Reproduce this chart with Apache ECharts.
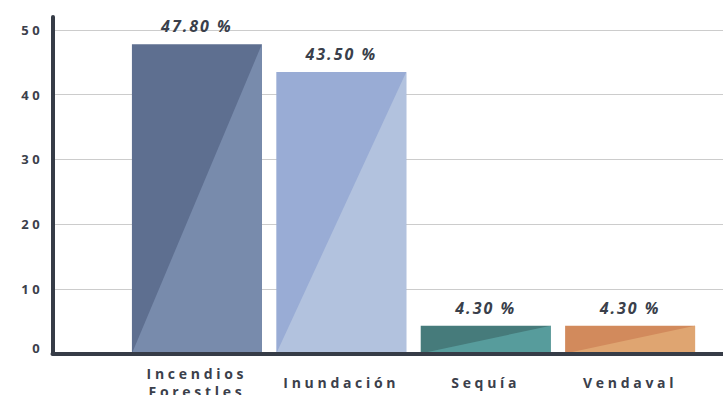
<!DOCTYPE html>
<html>
<head>
<meta charset="utf-8">
<script src="https://cdn.jsdelivr.net/npm/echarts@6/dist/echarts.min.js"></script>
<style>
  html, body { margin: 0; padding: 0; background: #ffffff; }
  #chart { width: 723px; height: 395px; }
  #chart text { letter-spacing: 3.7px; }
  #chart text[style*="italic"] { letter-spacing: 2px; }
</style>
</head>
<body>
<div id="chart"></div>
<script>
// Disaster types and their share (%)
const categories = ['Incendios Forestles', 'Inundación', 'Sequía', 'Vendaval'];
const values = [47.8, 43.5, 4.3, 4.3];
const yTicks = [0, 10, 20, 30, 40, 50];

// Two-tone fill for each bar: upper-left triangle and lower-right triangle
const darkColors = ['#5e6f90', '#99acd5', '#467b7b', '#d28a5c'];
const lightColors = ['#788bac', '#b2c2de', '#579c9c', '#dfa571'];

// Pad the category axis so bars sit between the y axis and the right edge
const axisCategories = [''].concat(categories, ['']);
const seriesData = values.map((v, i) => [i + 1, v]);

const chart = echarts.init(document.getElementById('chart'), null, { renderer: 'svg' });

chart.setOption({
  animation: false,
  backgroundColor: '#ffffff',
  grid: { left: 52.5, top: 17, width: 722, bottom: 41.5, containLabel: false, outerBoundsMode: 'none' },
  xAxis: {
    type: 'category',
    data: axisCategories,
    boundaryGap: false,
    z: 5,
    axisLine: { show: true, lineStyle: { color: '#363c47', width: 4 } },
    axisTick: { show: false },
    splitLine: { show: false },
    axisLabel: {
      interval: 0,
      margin: 29,
      verticalAlign: 'middle',
      lineHeight: 18,
      fontFamily: 'Open Sans',
      fontWeight: 'bold',
      fontSize: 14,
      color: '#3b404b',
      formatter: v => v.replace(' ', '\n')
    }
  },
  yAxis: {
    type: 'value',
    min: 0,
    max: 52,
    interval: 10,
    axisLine: { show: true, lineStyle: { color: '#363c47', width: 4 } },
    axisTick: { show: false },
    splitLine: { show: true, showMaxLine: false, lineStyle: { color: '#cccccc', width: 1 } },
    axisLabel: {
      showMaxLabel: false,
      margin: 9,
      fontFamily: 'Open Sans',
      fontWeight: 'bold',
      fontSize: 13,
      color: '#3b404b',
      // the zero label sits a little above the baseline
      formatter: v => (yTicks.indexOf(v) < 0 ? '' : (v === 0 ? '{zero|0}' : String(v))),
      rich: {
        zero: {
          fontFamily: 'Open Sans',
          fontWeight: 'bold',
          fontSize: 13,
          color: '#3b404b',
          padding: [0, 0, 12, 0]
        }
      }
    }
  },
  series: [{
    type: 'custom',
    data: seriesData,
    encode: { x: 0, y: 1 },
    renderItem: function (params, api) {
      const i = api.value(0);
      const v = api.value(1);
      const top = api.coord([i, v]);
      const base = api.coord([i, 0]);
      const w = api.size([1, 0])[0] * 0.9;
      const x0 = top[0] - w / 2;
      const x1 = top[0] + w / 2;
      const k = params.dataIndex;
      return {
        type: 'group',
        children: [
          {
            type: 'rect',
            shape: { x: x0, y: top[1], width: w, height: base[1] - top[1] },
            style: { fill: darkColors[k] }
          },
          {
            type: 'polygon',
            shape: { points: [[x1, top[1]], [x1, base[1]], [x0, base[1]]] },
            style: { fill: lightColors[k] }
          },
          {
            type: 'text',
            x: top[0],
            y: top[1] - 18,
            style: {
              text: v.toFixed(2) + ' %',
              align: 'center',
              verticalAlign: 'middle',
              font: 'italic bold 16px "Open Sans"',
              fill: '#3a3f4b'
            }
          }
        ]
      };
    }
  }]
});
</script>
</body>
</html>
